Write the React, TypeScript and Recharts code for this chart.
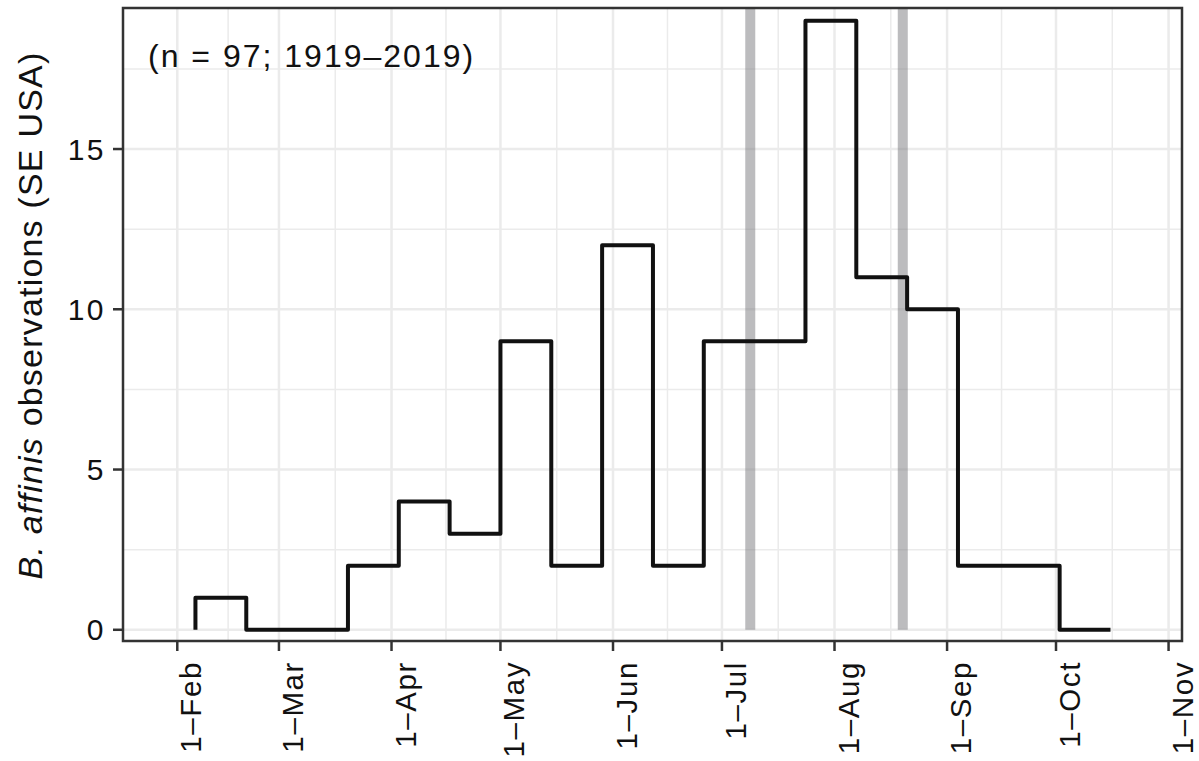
import React from 'react';
import { LineChart, Line, XAxis, YAxis, ReferenceLine, ReferenceArea } from 'recharts';

// day-of-year values, two-week bins
const BIN_START = [37, 51, 65, 79, 93, 107, 121, 135, 149, 163, 177, 191, 205, 219, 233, 247, 261, 275];
const COUNTS = [1, 0, 0, 2, 4, 3, 9, 2, 12, 2, 9, 9, 19, 11, 10, 2, 2, 0];
const LAST_BIN_END = 289;

const MONTH_TICKS = [32, 60, 91, 121, 152, 182, 213, 244, 274, 305];
const MONTH_LABELS = ['1–Feb', '1–Mar', '1–Apr', '1–May', '1–Jun', '1–Jul', '1–Aug', '1–Sep', '1–Oct', '1–Nov'];
const MINOR_X = [46, 75.5, 106, 136.5, 167, 197.5, 228.5, 259, 289.5];

const Y_TICKS = [0, 5, 10, 15];
const MINOR_Y = [2.5, 7.5, 12.5, 17.5];

const BAND_DAYS = [189.8, 231.8];

const X_DOMAIN: [number, number] = [17.05, 308.7];
const Y_DOMAIN: [number, number] = [-0.35, 19.4];

const FONT = '"Liberation Sans", Arial, Helvetica, sans-serif';
const INK = '#111111';
const GRID = '#ebebeb';

const stepData = [
  { day: BIN_START[0], count: 0 },
  ...BIN_START.map((d, i) => ({ day: d, count: COUNTS[i] })),
  { day: LAST_BIN_END, count: COUNTS[COUNTS.length - 1] },
];

const XTick = (props: any) => {
  const { x, y, payload } = props;
  const i = MONTH_TICKS.indexOf(payload.value);
  const bx = x + 24;
  const by = y + 8;
  return (
    <text
      x={bx}
      y={by}
      transform={`rotate(-90, ${bx}, ${by})`}
      textAnchor="end"
      fontFamily={FONT}
      fontSize={29.5}
      letterSpacing={1.6}
      fill={INK}
    >
      {MONTH_LABELS[i]}
    </text>
  );
};

const YTick = (props: any) => {
  const { x, y, payload } = props;
  return (
    <text x={x - 5} y={y} dy="0.355em" textAnchor="end" fontFamily={FONT} fontSize={30} letterSpacing={2.5} fill={INK}>
      {payload.value}
    </text>
  );
};

const YTitle = (props: any) => {
  const vb = props.viewBox || { x: 0, y: 8, width: 123, height: 633 };
  const tx = 42;
  const ty = vb.y + vb.height / 2 - 9;
  return (
    <text
      x={tx}
      y={ty}
      transform={`rotate(-90, ${tx}, ${ty})`}
      textAnchor="middle"
      fontFamily={FONT}
      fontSize={34}
      letterSpacing={1.2}
      fill={INK}
    >
      <tspan fontStyle="italic">B. affinis</tspan>
      <tspan> observations (SE USA)</tspan>
    </text>
  );
};

const Note = (props: any) => {
  const vb = props.viewBox || { x: 123, y: 8 };
  return (
    <text x={vb.x + 25} y={vb.y + 59} fontFamily={FONT} fontSize={32} letterSpacing={2} fill={INK}>
      (n = 97; 1919–2019)
    </text>
  );
};

export default function App() {
  return (
    <div style={{ position: 'absolute', left: 0, top: 0, width: 1199, height: 761, background: '#fff' }}>
      <LineChart width={1199} height={761} data={stepData} margin={{ top: 8, right: 17, bottom: 0, left: 0 }}>
        <XAxis
          dataKey="day"
          type="number"
          domain={X_DOMAIN}
          allowDataOverflow
          ticks={MONTH_TICKS}
          interval={0}
          tick={<XTick />}
          tickSize={10}
          tickLine={{ stroke: '#333333', strokeWidth: 2.5 }}
          axisLine={false}
          height={120}
        />
        <YAxis
          type="number"
          domain={Y_DOMAIN}
          allowDataOverflow
          ticks={Y_TICKS}
          interval={0}
          tick={<YTick />}
          tickSize={10}
          tickLine={{ stroke: '#333333', strokeWidth: 2.5 }}
          axisLine={false}
          width={123}
          label={YTitle}
        />
        {MINOR_X.map((v) => (
          <ReferenceLine key={`mx${v}`} x={v} stroke={GRID} strokeWidth={1.5} zIndex={-100} />
        ))}
        {MINOR_Y.map((v) => (
          <ReferenceLine key={`my${v}`} y={v} stroke={GRID} strokeWidth={1.5} zIndex={-100} />
        ))}
        {MONTH_TICKS.map((v) => (
          <ReferenceLine key={`x${v}`} x={v} stroke={GRID} strokeWidth={2.5} zIndex={-100} />
        ))}
        {Y_TICKS.map((v) => (
          <ReferenceLine key={`y${v}`} y={v} stroke={GRID} strokeWidth={2.5} zIndex={-100} />
        ))}
        {BAND_DAYS.map((d) => (
          <ReferenceLine
            key={`b${d}`}
            segment={[{ x: d, y: 0 }, { x: d, y: Y_DOMAIN[1] }]}
            stroke="#7a7a7e"
            strokeOpacity={0.5}
            strokeWidth={10}
            zIndex={100}
          />
        ))}
        <Line
          dataKey="count"
          type="stepAfter"
          stroke={INK}
          strokeWidth={4}
          strokeLinejoin="round"
          strokeLinecap="butt"
          dot={false}
          activeDot={false}
          isAnimationActive={false}
        />
        <ReferenceArea
          x1={X_DOMAIN[0]}
          x2={X_DOMAIN[1]}
          y1={Y_DOMAIN[0]}
          y2={Y_DOMAIN[1]}
          fill="none"
          fillOpacity={0}
          stroke="#333333"
          strokeWidth={2.5}
          ifOverflow="visible"
          zIndex={500}
          label={Note}
        />
      </LineChart>
    </div>
  );
}
